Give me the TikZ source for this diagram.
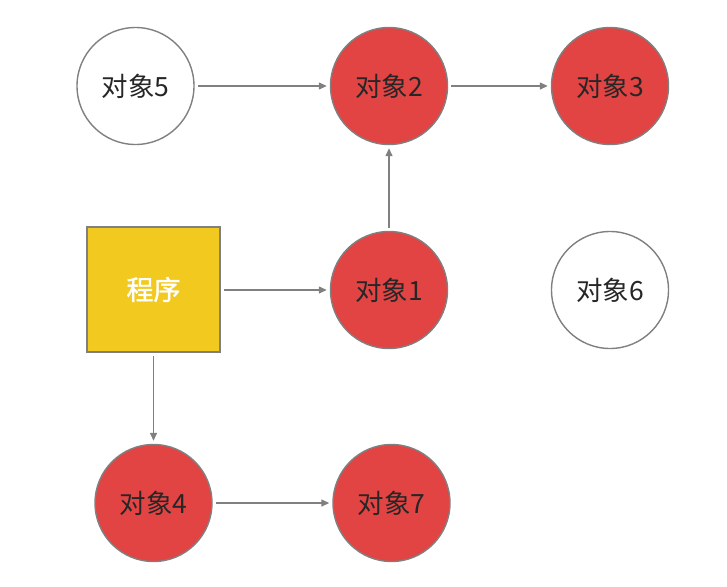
\documentclass[tikz,border=0pt]{standalone}
\usepackage{fontspec}
\setmainfont{Noto Sans CJK SC}
\usetikzlibrary{arrows.meta}
\definecolor{objred}{HTML}{E24444}
\definecolor{progyellow}{HTML}{F2CA1F}
\definecolor{edgegray}{HTML}{808080}
\begin{document}
\begin{tikzpicture}[x=1pt,y=-1pt,
  obj/.style={circle,draw=edgegray,line width=1.4pt,minimum size=117pt,inner sep=0pt,font=\fontsize{26.5}{30}\selectfont,text=black!85},
  redobj/.style={obj,fill=objred},
  whiteobj/.style={obj,fill=white},
  prog/.style={rectangle,draw=edgegray,line width=1.4pt,fill=progyellow,minimum width=133pt,minimum height=125pt,inner sep=0pt,font=\fontsize{27}{30}\selectfont,text=white},
  link/.style={draw=edgegray,line width=1.3pt,-{Triangle[length=8pt,width=7pt]},shorten >=3pt,shorten <=3pt}]
\useasboundingbox (0,0) rectangle (727,586);
\node[whiteobj] (o5) at (135.5,86) {对象5};
\node[redobj] (o2) at (389,86) {对象2};
\node[redobj] (o3) at (610,86) {对象3};
\node[prog] (p) at (153.5,289.5) {\addfontfeature{FakeBold=1.5}程序};
\node[redobj] (o1) at (389,290) {对象1};
\node[whiteobj] (o6) at (610,290) {对象6};
\node[redobj] (o4) at (153.5,503) {对象4};
\node[redobj] (o7) at (391.5,503) {对象7};
\draw[link] (o5) -- (o2);
\draw[link] (o2) -- (o3);
\draw[link] (o1) -- (o2);
\draw[link] (p.east |- o1) -- (o1);
\draw[link] (p) -- (o4);
\draw[link] (o4) -- (o7);
\end{tikzpicture}
\end{document}
